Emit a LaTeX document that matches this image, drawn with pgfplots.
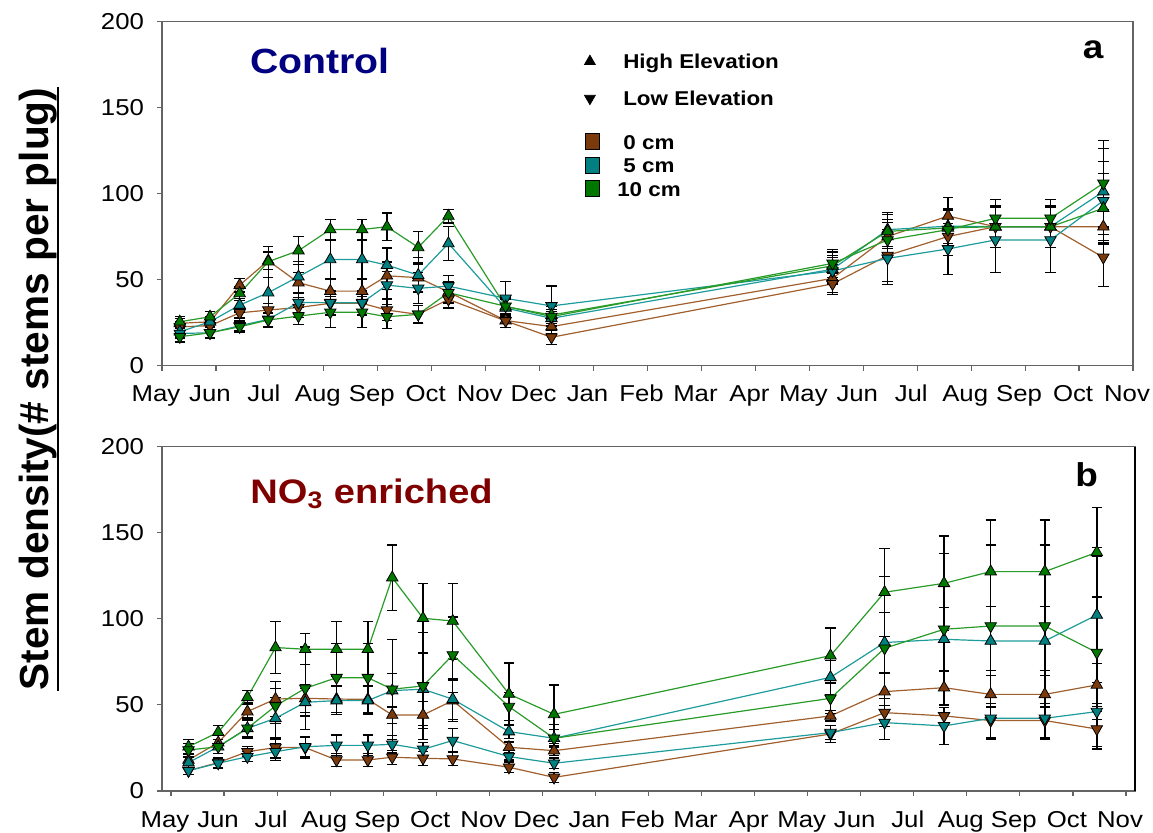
\documentclass[border=0pt]{standalone}
\usepackage{pgfplots}
\pgfplotsset{compat=1.18}
\usepackage{fontspec}
\setmainfont{Liberation Sans}[FakeStretch=1.12]
\newfontfamily\ylabfont{Liberation Sans}
\definecolor{brM}{RGB}{122,58,12}
\definecolor{brL}{RGB}{160,95,45}
\definecolor{tlM}{RGB}{0,128,128}
\definecolor{tlL}{RGB}{30,155,155}
\definecolor{grM}{RGB}{0,120,0}
\definecolor{grL}{RGB}{40,155,40}
\definecolor{axc}{RGB}{100,100,100}
\definecolor{ctrl}{RGB}{0,0,128}
\definecolor{nored}{RGB}{128,0,0}
\pgfplotsset{
  stemaxis/.style={
    scale only axis, height=172.2pt,
    ymin=0, ymax=200, ytick={0,50,...,200},
    xtick={0,...,18},
    xticklabels={May,Jun,Jul,Aug,Sep,Oct,Nov,Dec,Jan,Feb,Mar,Apr,May,Jun,Jul,Aug,Sep,Oct,Nov},
    tick align=outside, tick pos=left,
    major tick length=2.5pt,
    every tick/.style={axc, line width=0.6pt},
    axis line style={axc, line width=0.7pt},
    tick label style={font=\fontsize{11.5}{13}\selectfont, black},
    /pgf/number format/assume math mode=true,
    xticklabel style={xshift=-3pt, yshift=-4.5pt, text height=7.5pt, text depth=0pt},
    yticklabel style={xshift=-3pt},
    clip=false,
  },
  ser/.style n args={3}{color=#1, line width=0.6pt, mark=triangle*, mark size=3.3pt,
    mark options={fill=#2, draw=black, line width=0.4pt, #3},
    error bars/.cd, y dir=both, y explicit,
    error bar style={black, line width=0.7pt},
    error mark options={rotate=90, mark size=2.6pt, black, line width=0.6pt}},
}
\begin{document}
\begin{tikzpicture}
\useasboundingbox (0,0) rectangle (576.5pt,416.5pt);
% ---------------- panel a ----------------
\begin{axis}[stemaxis, width=485.5pt, at={(81pt,233.65pt)}, anchor=south west,
  xmin=0, xmax=18,
  legend style={at={(0.4275,0.918)}, anchor=north west, draw=none, fill=none,
    font=\bfseries\fontsize{10}{12}\selectfont, row sep=11pt,
    nodes={inner sep=0pt, text height=7.5pt, text depth=0pt}},
  legend cell align=left,
  legend image code/.code={\draw[#1] plot coordinates {(3pt,0pt)}; \path (0pt,0pt) (19.5pt,0pt);}]
\addlegendimage{only marks, mark=triangle*, mark size=3.1pt, black, mark options={fill=black}}
\addlegendentry{High Elevation}
\addlegendimage{only marks, mark=triangle*, mark size=3.1pt, black, mark options={fill=black, rotate=180}}
\addlegendentry{Low Elevation}
% H0
\addplot[ser={brL}{brM}{}] table[x index=0, y index=1, y error index=2] {
0.33 24.6 3
0.89 25.5 3
1.44 46.8 4
1.97 61.0 5
2.53 48.2 6
3.12 43.3 7
3.71 43.3 7
4.17 52.2 8
4.75 51.1 8
5.31 42.8 6
6.37 26.2 4
7.22 22.7 4
12.43 50.7 8
13.45 75.0 10
14.57 86.9 11
15.45 80.7 12
16.47 80.7 12
17.45 80.7 10
};
% L0
\addplot[ser={brL}{brM}{rotate=180}] table[x index=0, y index=1, y error index=2] {
0.33 22.6 3
0.89 23.2 3
1.44 30.7 3
1.97 32.3 4
2.53 33.8 6
3.12 36.2 7
3.71 36.2 7
4.17 32.3 6
4.75 29.8 5
5.31 38.5 5
6.37 26.0 4
7.22 16.5 4
12.43 47.5 6
13.45 64.0 15
14.57 75.0 11
15.45 80.7 12
16.47 80.7 12
17.45 62.9 17
};
% H5
\addplot[ser={tlL}{tlM}{}] table[x index=0, y index=1, y error index=2] {
0.33 19.7 3
0.89 25.5 3
1.44 35.2 4
1.97 42.4 9
2.53 51.7 9
3.12 61.7 11
3.71 61.7 11
4.17 58.4 10
4.75 52.6 10
5.31 71.0 10
6.37 33.5 5
7.22 27.5 4
12.43 56.0 8
13.45 79.0 10
14.57 81.0 10
15.45 80.7 12
16.47 80.7 12
17.45 101.1 25
};
% L5
\addplot[ser={tlL}{tlM}{rotate=180}] table[x index=0, y index=1, y error index=2] {
0.33 18.7 3
0.89 19.1 3
1.44 23.2 3
1.97 26.9 4
2.53 36.7 6
3.12 36.6 7
3.71 36.6 7
4.17 46.8 8
4.75 44.9 9
5.31 46.2 6
6.37 39.1 10
7.22 34.7 11.6
12.43 55.0 8
13.45 62.3 15
14.57 67.8 15
15.45 73.0 19
16.47 73.0 19
17.45 95.8 23
};
% H10
\addplot[ser={grL}{grM}{}] table[x index=0, y index=1, y error index=2] {
0.33 25.5 3
0.89 28.4 3
1.44 42.0 4
1.97 60.4 9
2.53 66.8 8
3.12 79.1 6
3.71 79.1 6
4.17 80.7 8
4.75 68.7 9
5.31 86.9 4
6.37 34.3 5
7.22 29.4 5
12.43 58.0 8
13.45 78.0 10
14.57 80.0 11
15.45 80.7 12
16.47 80.7 12
17.45 91.4 20
};
% L10
\addplot[ser={grL}{grM}{rotate=180}] table[x index=0, y index=1, y error index=2] {
0.33 16.8 3
0.89 19.1 3
1.44 22.6 3
1.97 26.5 4
2.53 28.8 5
3.12 31.0 9
3.71 31.0 9
4.17 28.4 7
4.75 29.8 5
5.31 42.4 6
6.37 34.5 4
7.22 28.5 4
12.43 59.4 8
13.45 73.0 10
14.57 79.0 11
15.45 85.6 11
16.47 85.6 11
17.45 105.9 25
};
\node[anchor=base west, inner sep=0pt, font=\bfseries\fontsize{17.5}{20}\selectfont, text=ctrl] at (axis cs:1.63,169.4) {Control};
\node[anchor=base, inner sep=0pt, font=\bfseries\fontsize{16.5}{20}\selectfont] at (axis cs:17.26,178.1) {a};
\end{axis}
% ---------------- legend for depths (overlay) ----------------
\begin{axis}[scale only axis, width=485.5pt, height=172.2pt, at={(81pt,233.65pt)}, anchor=south west,
  xmin=0, xmax=18, ymin=0, ymax=200, hide axis,
  legend style={at={(0.4295,0.688)}, anchor=north west, draw=none, fill=none,
    font=\bfseries\fontsize{10}{12}\selectfont, row sep=3.4pt,
    nodes={inner sep=0pt, text height=7.5pt, text depth=0pt}},
  legend cell align=center,
  legend image code/.code={\draw[#1, draw=black, line width=0.4pt] (0pt,-4pt) rectangle (7pt,4pt); \path (0pt,0pt) (15.5pt,0pt);}]
\addlegendimage{fill=brM}
\addlegendentry{0 cm}
\addlegendimage{fill=tlM}
\addlegendentry{5 cm}
\addlegendimage{fill=grM}
\addlegendentry{10 cm}
\end{axis}
% ---------------- panel b ----------------
\begin{axis}[stemaxis, width=486.5pt, at={(81pt,21pt)}, anchor=south west, name=bot,
  xmin=-0.1696, xmax=18.1696]
% H0
\addplot[ser={brL}{brM}{}] table[x index=0, y index=1, y error index=2] {
0.33 18.0 3
0.89 28.1 4
1.44 46.1 5
1.97 53.4 10
2.53 53.8 8
3.12 53.4 8
3.71 53.2 8
4.17 44.1 5
4.75 44.1 8
5.31 52.5 12
6.37 25.4 3
7.22 23.4 3
12.43 43.6 3
13.45 57.7 10.7
14.57 60.0 10
15.45 56.1 14
16.47 56.1 14
17.45 61.6 12.6
};
% L0
\addplot[ser={brL}{brM}{rotate=180}] table[x index=0, y index=1, y error index=2] {
0.33 11.8 2
0.89 16.5 3
1.44 22.8 3
1.97 25.2 6
2.53 25.2 6
3.12 18.0 4
3.71 18.0 4
4.17 19.6 4
4.75 19.0 4
5.31 18.6 4
6.37 13.8 3
7.22 7.9 3
12.43 33.1 5
13.45 45.5 8
14.57 43.6 5
15.45 40.9 10
16.47 40.9 10
17.45 36.0 10
};
% H5
\addplot[ser={tlL}{tlM}{}] table[x index=0, y index=1, y error index=2] {
0.33 16.5 3
0.89 25.7 4
1.44 36.4 6
1.97 42.2 12
2.53 51.5 8
3.12 52.5 8
3.71 52.5 8
4.17 58.3 10
4.75 59.1 21
5.31 53.3 12
6.37 34.5 4
7.22 30.6 5
12.43 66.0 10
13.45 86.2 17.4
14.57 88.1 18.6
15.45 87.1 20
16.47 87.1 20
17.45 102.2 39
};
% L5
\addplot[ser={tlL}{tlM}{rotate=180}] table[x index=0, y index=1, y error index=2] {
0.33 11.8 2
0.89 16.1 3
1.44 19.9 3
1.97 22.8 5
2.53 25.7 6
3.12 26.5 6
3.71 26.5 6
4.17 27.1 5
4.75 24.2 4
5.31 29.3 7
6.37 20.0 2
7.22 16.1 3
12.43 33.9 4
13.45 39.7 10
14.57 37.8 10.7
15.45 42.2 12
16.47 42.2 12
17.45 46.1 4.8
};
% H10
\addplot[ser={grL}{grM}{}] table[x index=0, y index=1, y error index=2] {
0.33 25.7 4
0.89 34.1 4
1.44 54.4 4
1.97 83.3 15
2.53 82.3 9
3.12 82.3 16
3.71 82.3 16
4.17 123.9 19
4.75 100.3 20
5.31 98.7 22
6.37 56.3 18
7.22 44.5 17
12.43 78.6 16
13.45 115.4 25.6
14.57 120.6 27.5
15.45 127.4 30
16.47 127.4 30
17.45 138.6 26
};
% L10
\addplot[ser={grL}{grM}{rotate=180}] table[x index=0, y index=1, y error index=2] {
0.33 23.8 4
0.89 25.7 4
1.44 36.4 5
1.97 49.4 10
2.53 59.6 24
3.12 65.8 20
3.71 65.8 20
4.17 59.1 29
4.75 61.0 31
5.31 79.0 22
6.37 49.0 8
7.22 30.6 8
12.43 53.8 9
13.45 82.9 41.6
14.57 93.9 44
15.45 95.8 47
16.47 95.8 47
17.45 80.4 56
};
\draw[black, line width=0.7pt] (rel axis cs:1,0) -- (rel axis cs:1,1);
\node[anchor=base west, inner sep=0pt, font=\bfseries\fontsize{17}{20}\selectfont, text=nored] at (axis cs:1.49,167.1) {NO\textsubscript{3} enriched};
\node[anchor=base, inner sep=0pt, font=\bfseries\fontsize{16.5}{20}\selectfont] at (axis cs:17.26,176.8) {b};
\end{axis}
\draw[axc, line width=0.9pt] ([xshift=4.5pt]bot.north west) -- ([xshift=-4.5pt]bot.north east);
% ---------------- y label ----------------
\node[rotate=90, anchor=south, inner sep=0pt, font=\ylabfont\bfseries\fontsize{20.3}{24}\selectfont] (yl) at (29pt,222pt) {Stem density(\# stems per plug)};
\draw[line width=1.3pt] (yl.south west) -- (yl.south east);
\end{tikzpicture}
\end{document}
